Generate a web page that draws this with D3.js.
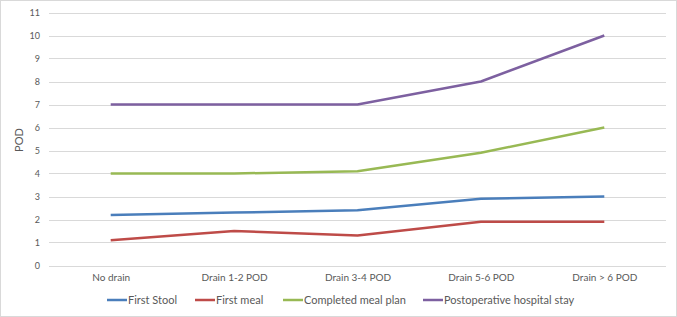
<!DOCTYPE html>
<html>
<head>
<meta charset="utf-8">
<script src="https://cdn.jsdelivr.net/npm/d3@7"></script>
<style>
  body { margin: 0; background: #fff; }
  text { font-family: Lato, "Open Sans", sans-serif; fill: #595959; }
</style>
</head>
<body>
<script>
const [W, H] = [677, 317];
const PADDING = { left: 49, top: 12.5, right: 11, bottom: 51.5 };

const CATEGORIES = ['No drain', 'Drain 1-2 POD', 'Drain 3-4 POD', 'Drain 5-6 POD', 'Drain > 6 POD'];
const FIRST_STOOL = [2.2, 2.3, 2.4, 2.9, 3.0];
const FIRST_MEAL = [1.1, 1.5, 1.3, 1.9, 1.9];
const MEAL_PLAN = [4.0, 4.0, 4.1, 4.9, 6.0];
const HOSPITAL_STAY = [7, 7, 7, 8, 10];
const Y_TICKS = [0, 1, 2, 3, 4, 5, 6, 7, 8, 9, 10, 11];

const SERIES = [
    { name: 'First Stool', values: FIRST_STOOL, color: '#4a7ebb' },
    { name: 'First meal', values: FIRST_MEAL, color: '#be4b48' },
    { name: 'Completed meal plan', values: MEAL_PLAN, color: '#98b954' },
    { name: 'Postoperative hospital stay', values: HOSPITAL_STAY, color: '#7d60a0' }
];
const LEGEND_X = [107, 195, 283, 423];

const svg = d3.select('body').append('svg').attr('width', W).attr('height', H);

// outer border
svg.append('rect')
    .attr('x', 0.5).attr('y', 0.5)
    .attr('width', W - 1).attr('height', H - 1)
    .attr('fill', '#fff').attr('stroke', '#d9d9d9');

const xScale = d3.scalePoint()
    .domain(CATEGORIES)
    .range([PADDING.left, W - PADDING.right])
    .padding(0.5);

const yScale = d3.scaleLinear()
    .domain([0, 11])
    .range([H - PADDING.bottom, PADDING.top]);

// grid
svg.append('g')
    .selectAll('line')
    .data(Y_TICKS)
    .enter()
    .append('line')
    .attr('x1', PADDING.left)
    .attr('x2', W - PADDING.right)
    .attr('y1', d => Math.round(yScale(d)) + 0.5)
    .attr('y2', d => Math.round(yScale(d)) + 0.5)
    .attr('stroke', '#d9d9d9');

// y axis labels
const yAxis = d3.axisLeft(yScale).tickValues(Y_TICKS).tickSize(0).tickPadding(9);
svg.append('g')
    .attr('transform', 'translate(' + PADDING.left + ',0)')
    .call(yAxis)
    .call(g => g.select('.domain').remove())
    .selectAll('text')
    .style('font-size', '9px')
    .style('font-family', 'Lato, sans-serif')
    .attr('fill', '#595959');

// x axis labels
const xAxis = d3.axisBottom(xScale).tickSize(0).tickPadding(8);
svg.append('g')
    .attr('transform', 'translate(0,' + (H - PADDING.bottom) + ')')
    .call(xAxis)
    .call(g => g.select('.domain').remove())
    .selectAll('text')
    .style('font-size', '10px')
    .style('font-family', 'Lato, sans-serif')
    .attr('fill', '#595959');

// y title
svg.append('text')
    .attr('transform', 'translate(23,' + 140 + ') rotate(-90)')
    .style('text-anchor', 'middle')
    .style('font-size', '11px')
    .text('POD');

// lines
const line = d3.line()
    .x((d, i) => xScale(CATEGORIES[i]))
    .y(d => yScale(d));

svg.append('g')
    .selectAll('path')
    .data(SERIES)
    .enter()
    .append('path')
    .attr('d', d => line(d.values))
    .attr('fill', 'none')
    .attr('stroke', d => d.color)
    .attr('stroke-width', 2.5)
    .attr('stroke-linejoin', 'round');

// legend
const legend = svg.append('g')
    .selectAll('g')
    .data(SERIES)
    .enter()
    .append('g')
    .attr('transform', (d, i) => 'translate(' + LEGEND_X[i] + ',300)');

legend.append('line')
    .attr('x1', 0).attr('x2', 20)
    .attr('stroke', d => d.color)
    .attr('stroke-width', 2.5);

legend.append('text')
    .attr('x', 21)
    .attr('dy', '0.35em')
    .style('font-size', '11px')
    .text(d => d.name);
</script>
</body>
</html>
